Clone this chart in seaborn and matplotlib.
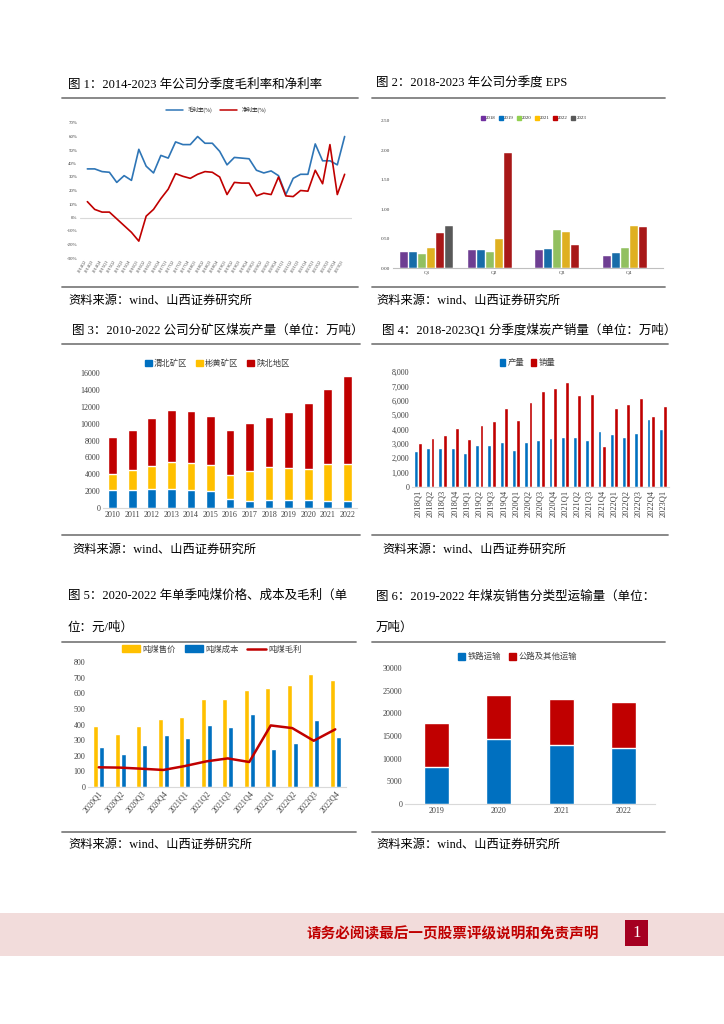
import numpy as np
import pandas as pd
import matplotlib
matplotlib.use("Agg")
import matplotlib.pyplot as plt
import seaborn as sns
from matplotlib.patches import Patch, Rectangle
from matplotlib.lines import Line2D

# ---------- data ----------
# 图1 毛利率 / 净利率 (%)
quarters1 = [f"{y}Q{q}" for y in range(2014, 2024) for q in range(1, 5)][1:37]
gross_margin = [36, 36, 34, 33.5, 26, 31, 27.5, 50.5, 38, 33, 46, 44,
                56, 54, 54, 60, 55, 55, 49, 39, 44.5, 44, 43.5, 35,
                33, 34.5, 31, 17, 29, 32, 32, 54.5, 42, 42, 39, 60]
net_margin = [11.75, 6, 4, 4, -1, -6, -11, -17.5, 1, 6, 14, 21,
              32.5, 30.5, 29, 32, 34, 33.5, 30, 17, 26, 25.5, 25.5, 16,
              18, 17, 30, 16, 15.5, 20, 19.5, 35, 25, 54, 17, 32]

# 图2 EPS
eps_quarters = ["Q1", "Q2", "Q3", "Q4"]
eps_years = ["2018", "2019", "2020", "2021", "2022", "2023"]
eps_2018 = [0.28, 0.30, 0.30, 0.21]
eps_2019 = [0.27, 0.30, 0.32, 0.25]
eps_2020 = [0.23, 0.27, 0.64, 0.34]
eps_2021 = [0.34, 0.49, 0.61, 0.71]
eps_2022 = [0.59, 1.95, 0.39, 0.69]
eps_2023 = [0.71, np.nan, np.nan, np.nan]

# 图3 分矿区产量 (万吨)
years3 = [str(y) for y in range(2010, 2023)]
weibei = [2170, 2170, 2250, 2250, 2170, 2050, 1110, 790, 990, 910, 910, 790, 870]
binhuang = [1900, 2290, 2770, 3240, 3160, 3090, 2800, 3640, 3870, 3870, 3750, 4390, 4380]
shanbei = [4350, 4820, 5650, 6130, 6210, 5800, 5330, 5680, 5970, 6640, 7820, 8960, 10390]

# 图4 产销量 (万吨)
quarters4 = ["2018Q1", "2018Q2", "2018Q3", "2018Q4", "2019Q1", "2019Q2", "2019Q3",
             "2019Q4", "2020Q1", "2020Q2", "2020Q3", "2020Q4", "2021Q1", "2021Q2",
             "2021Q3", "2021Q4", "2022Q1", "2022Q2", "2022Q3", "2022Q4", "2023Q1"]
output4 = [2480, 2740, 2710, 2740, 2340, 2920, 2950, 3110, 2550, 3150, 3250,
           3430, 3460, 3480, 3250, 3870, 3670, 3460, 3780, 4760, 4040]
sales4 = [3060, 3390, 3600, 4080, 3320, 4290, 4570, 5470, 4640, 5890, 6700,
          6870, 7290, 6430, 6500, 2830, 5470, 5750, 6190, 4960, 5610]

# 图5 吨煤价格/成本/毛利 (元/吨)
quarters5 = ["2020Q1", "2020Q2", "2020Q3", "2020Q4", "2021Q1", "2021Q2",
             "2021Q3", "2021Q4", "2022Q1", "2022Q2", "2022Q3", "2022Q4"]
price5 = [388, 337, 388, 437, 448, 565, 565, 623, 635, 655, 723, 687]
cost5 = [256, 213, 271, 335, 313, 399, 386, 467, 245, 279, 426, 318]
margin5 = [126, 124, 117, 109, 134, 164, 183, 160, 394, 377, 296, 369]

# 图6 运输量 (万吨)
years6 = ["2019", "2020", "2021", "2022"]
rail6 = [8140, 14300, 12980, 12400]
road6 = [9680, 9830, 10120, 10040]

# ---------- style ----------
sns.set_theme(style="white")
plt.rcParams["font.family"] = ["Liberation Serif", "Noto Sans CJK SC", "DejaVu Sans"]
plt.rcParams["axes.unicode_minus"] = False

BLUE = "#0070C0"
RED = "#C00000"
YELLOW = "#FFC000"
GRID = "#D9D9D9"
TXT = "#404040"

W, H = 724, 1024
fig = plt.figure(figsize=(7.24, 10.24), dpi=100)


def box(l, t, r, b):
    return [l / W, 1 - b / H, (r - l) / W, (b - t) / H]


def ftext(x, y, s, **kw):
    fig.text(x / W, 1 - y / H, s, va="center", **kw)


def hline(x0, x1, y, color="#7F7F7F", lw=1.3):
    fig.add_artist(Line2D([x0 / W, x1 / W], [1 - y / H, 1 - y / H], color=color, lw=lw))


def clean(ax, fs=5.5):
    sns.despine(ax=ax, left=True, top=True, right=True)
    ax.spines["bottom"].set_color(GRID)
    ax.spines["bottom"].set_linewidth(0.8)
    ax.tick_params(axis="both", length=0, labelsize=fs, colors=TXT, pad=2)
    ax.set_xlabel("")
    ax.set_ylabel("")
    ax.grid(False)


# ---------- titles, rules, sources ----------
tfs = 9
ftext(68, 84, "图 1：2014-2023 年公司分季度毛利率和净利率", fontsize=tfs, color="black")
ftext(376, 84, "图 2：2018-2023 年公司分季度 EPS", fontsize=tfs, color="black")
ftext(72, 330, "图 3：2010-2022 公司分矿区煤炭产量（单位：万吨）", fontsize=tfs, color="black")
ftext(382, 330, "图 4：2018-2023Q1 分季度煤炭产销量（单位：万吨）", fontsize=tfs, color="black")
ftext(68, 596, "图 5：2020-2022 年单季吨煤价格、成本及毛利（单", fontsize=tfs, color="black")
ftext(68, 628, "位：元/吨）", fontsize=tfs, color="black")
ftext(376, 596, "图 6：2019-2022 年煤炭销售分类型运输量（单位：", fontsize=tfs, color="black")
ftext(376, 628, "万吨）", fontsize=tfs, color="black")

src = "资料来源：wind、山西证券研究所"
for x, y in [(68, 301), (376, 301), (72, 550), (382, 550), (68, 845), (376, 845)]:
    ftext(x, y, src, fontsize=8.8, color="black")

for x0, x1 in [(62, 358), (372, 665)]:
    hline(x0, x1, 98)
    hline(x0, x1, 287)
for x0, x1 in [(62, 360), (372, 668)]:
    hline(x0, x1, 344)
    hline(x0, x1, 535)
for x0, x1 in [(62, 356), (372, 665)]:
    hline(x0, x1, 642)
    hline(x0, x1, 832)

# ---------- 图1 ----------
ax1 = fig.add_axes(box(80, 123, 352, 258))
df1 = pd.DataFrame({"季度": quarters1, "毛利率": gross_margin, "净利率": net_margin})
x1 = np.arange(len(quarters1))
sns.lineplot(x=x1, y=df1["毛利率"], ax=ax1, color="#2E75B6", lw=1.2)
sns.lineplot(x=x1, y=df1["净利率"], ax=ax1, color=RED, lw=1.2)
ax1.axhline(0, color=GRID, lw=0.8, zorder=0)
ax1.set_xlim(-1, len(quarters1))
ax1.set_ylim(-30, 70)
ax1.set_yticks(range(-30, 71, 10))
ax1.set_yticklabels([f"{v}%" for v in range(-30, 71, 10)])
ax1.set_xticks(x1)
ax1.set_xticklabels(quarters1, rotation=60, ha="right")
clean(ax1, fs=3.5)
ax1.spines["bottom"].set_visible(False)
ax1.tick_params(axis="x", labelsize=3.2, pad=1)
ax1.legend(handles=[Line2D([], [], color="#2E75B6", lw=1.1, label="毛利率(%)"),
                    Line2D([], [], color=RED, lw=1.1, label="净利率(%)")],
           loc="center", bbox_to_anchor=(0.5, 1.1), ncol=2, frameon=False,
           fontsize=4, handlelength=3, columnspacing=1.5)

# ---------- 图2 ----------
ax2 = fig.add_axes(box(393, 121, 663, 268))
eps_vals = [eps_2018, eps_2019, eps_2020, eps_2021, eps_2022, eps_2023]
df2 = pd.DataFrame({"季度": np.tile(eps_quarters, len(eps_years)),
                    "年份": np.repeat(eps_years, len(eps_quarters)),
                    "EPS": np.concatenate(eps_vals)})
pal2 = ["#7030A0", BLUE, "#92D050", YELLOW, RED, "#595959"]
sns.barplot(data=df2, x="季度", y="EPS", hue="年份", palette=pal2, ax=ax2,
            width=0.8, gap=0.1, edgecolor="white", linewidth=0.3, legend=False)
ax2.set_ylim(0, 2.5)
ax2.set_yticks(np.arange(0, 2.51, 0.5))
ax2.set_yticklabels([f"{v:.2f}" for v in np.arange(0, 2.51, 0.5)])
clean(ax2, fs=3.8)
ax2.spines["bottom"].set_color("#BFBFBF")
ax2.legend(handles=[Patch(color=c, label=l) for c, l in zip(pal2, eps_years)],
           loc="center", bbox_to_anchor=(0.52, 1.02), ncol=6, frameon=False,
           fontsize=3.5, handlelength=0.8, handleheight=0.8, handletextpad=0.3,
           columnspacing=0.6)

# ---------- 图3 ----------
ax3 = fig.add_axes(box(103, 373, 357, 508))
df3 = pd.DataFrame({"年份": years3, "渭北矿区": weibei, "彬黄矿区": binhuang, "陕北地区": shanbei})
df3["top"] = df3["渭北矿区"] + df3["彬黄矿区"] + df3["陕北地区"]
df3["mid"] = df3["渭北矿区"] + df3["彬黄矿区"]
sns.barplot(data=df3, x="年份", y="top", color=RED, ax=ax3, width=0.45, saturation=1)
sns.barplot(data=df3, x="年份", y="mid", color=YELLOW, ax=ax3, width=0.45, saturation=1)
sns.barplot(data=df3, x="年份", y="渭北矿区", color=BLUE, ax=ax3, width=0.45, saturation=1)
ax3.set_ylim(0, 16000)
ax3.set_yticks(range(0, 16001, 2000))
clean(ax3, fs=5.8)
ax3.legend(handles=[Patch(color=BLUE, label="渭北矿区"), Patch(color=YELLOW, label="彬黄矿区"),
                    Patch(color=RED, label="陕北地区")],
           loc="center", bbox_to_anchor=(0.45, 1.07), ncol=3, frameon=False,
           fontsize=6, handlelength=0.8, handleheight=0.8, handletextpad=0.3,
           columnspacing=1.0, labelcolor=TXT)

# ---------- 图4 ----------
ax4 = fig.add_axes(box(412, 372, 669, 487))
df4 = pd.DataFrame({"季度": quarters4 * 2,
                    "类型": ["产量"] * len(quarters4) + ["销量"] * len(quarters4),
                    "万吨": output4 + sales4})
sns.barplot(data=df4, x="季度", y="万吨", hue="类型", palette=[BLUE, RED], ax=ax4,
            width=0.72, gap=0.12, saturation=1, legend=False)
ax4.set_ylim(0, 8000)
ax4.set_yticks(range(0, 8001, 1000))
ax4.set_yticklabels([f"{v:,}" for v in range(0, 8001, 1000)])
clean(ax4, fs=5.8)
ax4.tick_params(axis="x", rotation=90, labelsize=6)
ax4.legend(handles=[Patch(color=BLUE, label="产量"), Patch(color=RED, label="销量")],
           loc="center", bbox_to_anchor=(0.45, 1.08), ncol=2, frameon=False,
           fontsize=6, handlelength=0.6, handleheight=1.0, handletextpad=0.3,
           columnspacing=0.8, labelcolor=TXT)

# ---------- 图5 ----------
ax5 = fig.add_axes(box(88, 662, 346, 787))
df5 = pd.DataFrame({"季度": quarters5 * 2,
                    "项目": ["吨煤售价"] * len(quarters5) + ["吨煤成本"] * len(quarters5),
                    "元/吨": price5 + cost5})
sns.barplot(data=df5, x="季度", y="元/吨", hue="项目", palette=[YELLOW, BLUE], ax=ax5,
            width=0.58, gap=0.2, saturation=1, legend=False)
sns.lineplot(x=np.arange(len(quarters5)), y=margin5, color=RED, lw=1.8, ax=ax5)
ax5.set_ylim(0, 800)
ax5.set_yticks(range(0, 801, 100))
ax5.set_xlim(-0.5, len(quarters5) - 0.5)
clean(ax5, fs=5.8)
ax5.set_xticks(range(len(quarters5)))
ax5.set_xticklabels(quarters5, rotation=50, ha="right", rotation_mode="anchor")
ax5.legend(handles=[Patch(color=YELLOW, label="吨煤售价"), Patch(color=BLUE, label="吨煤成本"),
                    Line2D([], [], color=RED, lw=1.8, label="吨煤毛利")],
           loc="center", bbox_to_anchor=(0.48, 1.1), ncol=3, frameon=False,
           fontsize=6, handlelength=2.2, handleheight=0.8, handletextpad=0.3,
           columnspacing=1.0, labelcolor=TXT)

# ---------- 图6 ----------
ax6 = fig.add_axes(box(405, 668, 655, 804))
df6 = pd.DataFrame({"年份": years6, "铁路运输": rail6, "公路及其他运输": road6})
df6["合计"] = df6["铁路运输"] + df6["公路及其他运输"]
sns.barplot(data=df6, x="年份", y="合计", color=RED, ax=ax6, width=0.4, saturation=1)
sns.barplot(data=df6, x="年份", y="铁路运输", color=BLUE, ax=ax6, width=0.4, saturation=1)
ax6.set_ylim(0, 30000)
ax6.set_yticks(range(0, 30001, 5000))
clean(ax6, fs=5.8)
ax6.legend(handles=[Patch(color=BLUE, label="铁路运输"), Patch(color=RED, label="公路及其他运输")],
           loc="center", bbox_to_anchor=(0.45, 1.08), ncol=2, frameon=False,
           fontsize=6, handlelength=0.8, handleheight=0.8, handletextpad=0.3,
           columnspacing=1.0, labelcolor=TXT)

# ---------- footer ----------
fig.add_artist(Rectangle((0, 1 - 956 / H), 1, 43 / H, color="#F2DCDB", lw=0))
# simple QR-like block
qr = fig.add_axes(box(38, 916, 66, 954))
qr.add_patch(Rectangle((0, 0), 1, 1, color="white"))
for (cx, cy) in [(0.05, 0.68), (0.68, 0.68), (0.05, 0.05)]:
    qr.add_patch(Rectangle((cx, cy), 0.27, 0.27, color="black"))
    qr.add_patch(Rectangle((cx + 0.05, cy + 0.05), 0.17, 0.17, color="white"))
    qr.add_patch(Rectangle((cx + 0.09, cy + 0.09), 0.09, 0.09, color="black"))
for i in range(3, 9):
    for j in range(3, 9):
        if (i * 7 + j * 3) % 4 < 2:
            qr.add_patch(Rectangle((i * 0.1, j * 0.1), 0.07, 0.07, color="black"))
qr.add_patch(Rectangle((0.42, 0.42), 0.16, 0.16, color="white"))
qr.set_xlim(0, 1)
qr.set_ylim(0, 1)
qr.axis("off")

ftext(453, 934, "请务必阅读最后一页股票评级说明和免责声明", fontsize=10.5,
      color=RED, ha="center", fontweight="bold")
fig.add_artist(Rectangle((625 / W, 1 - 946 / H), 23 / W, 26 / H, color="#A50021", lw=0))
ftext(636.5, 933, "1", fontsize=12, color="white", ha="center")

fig.savefig("out.png", dpi=100)
